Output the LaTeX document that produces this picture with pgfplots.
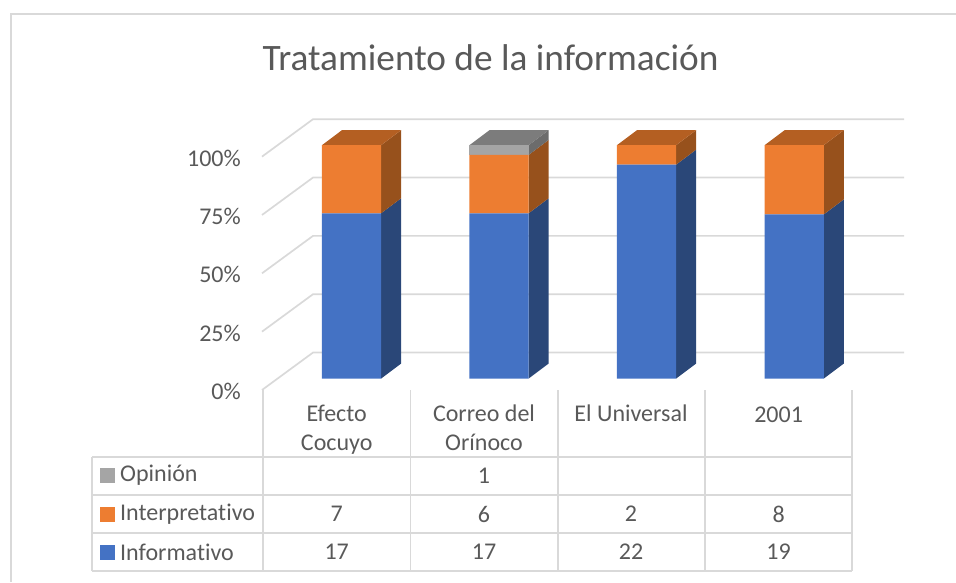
\documentclass[border=0pt]{standalone}
\usepackage{pgfplots}
\usepackage{pgfplotstable}
\usepackage{fontspec}
\setmainfont[Ligatures=NoCommon]{Carlito}
\pgfplotsset{compat=1.18}

\definecolor{azul}{HTML}{4472C4}
\definecolor{azulside}{HTML}{2A4778}
\definecolor{naranja}{HTML}{ED7D31}
\definecolor{naranjaside}{HTML}{97511C}
\definecolor{naranjatop}{HTML}{B45F22}
\definecolor{gris}{HTML}{A5A5A5}
\definecolor{grisside}{HTML}{6C6C6C}
\definecolor{gristop}{HTML}{7C7C7C}
\definecolor{linea}{HTML}{D9D9D9}
\definecolor{texto}{HTML}{595959}

% counts per newspaper; x is the bar centre in px
\pgfplotstableread{
x     inf int opi
351.5 17  7   0
499.0 17  6   1
646.5 22  2   0
794.2 19  8   0
}\datos

% depth of the fake 3D: 20 px right, 15 px up (6.43 percent units)
\newcommand{\lado}[4]{% x, low, high, colour
  \pgfmathsetmacro\xr{#1+29.6}
  \pgfmathsetmacro\xs{#1+49.6}
  \pgfmathsetmacro\ya{#2+6.43}
  \pgfmathsetmacro\yb{#3+6.43}
  \addplot[fill=#4,draw=none,forget plot] coordinates {(\xr,#2) (\xs,\ya) (\xs,\yb) (\xr,#3)} -- cycle;
}
\newcommand{\tapa}[2]{% x, colour
  \pgfmathsetmacro\xl{#1-29.6}
  \pgfmathsetmacro\xm{#1-9.6}
  \pgfmathsetmacro\xr{#1+29.6}
  \pgfmathsetmacro\xs{#1+49.6}
  \addplot[fill=#2,draw=none,forget plot] coordinates {(\xl,100) (\xm,106.43) (\xs,106.43) (\xr,100)} -- cycle;
}
\newcommand{\pared}[1]{% wall line at level #1
  \pgfmathsetmacro\ya{#1-4.9}
  \pgfmathsetmacro\yb{#1+11.14}
  \addplot[linea,line width=1.7pt,forget plot] coordinates {(262,\ya) (313,\yb) (904,\yb)};
}
\newcommand{\celda}[3]{\node[anchor=center] at (axis cs:#1,#2) {#3};}

\begin{document}
\begin{tikzpicture}
\path[use as bounding box] (0pt,0pt) rectangle (956pt,582pt);
% table, frame and title, in image pixels
\begin{axis}[
  at={(0pt,0pt)}, anchor=south west,
  scale only axis, width=956pt, height=582pt,
  xmin=0, xmax=956, ymin=0, ymax=582, y dir=reverse,
  hide axis, clip=false,
  every axis plot/.append style={forget plot},
  font=\fontsize{24}{29}\selectfont, 
  nodes={text=texto, inner sep=0pt},
]
\addplot[linea,line width=1.7pt] coordinates {(11,582) (11,14) (956,14)};
\foreach \yy in {457,495,533,571} {
  \addplot[linea,line width=1.7pt] coordinates {(92,\yy) (852,\yy)};
}
\foreach \xx in {263,410.4,557.8,705,852} {
  \addplot[linea,line width=1.7pt] coordinates {(\xx,390) (\xx,571)};
}
\addplot[linea,line width=1.7pt] coordinates {(92,457) (92,571)};
\addplot[only marks,mark=square*,mark size=7pt,color=gris,line width=0pt] coordinates {(107,475)};
\addplot[only marks,mark=square*,mark size=7pt,color=naranja,line width=0pt] coordinates {(107,514)};
\addplot[only marks,mark=square*,mark size=7pt,color=azul,line width=0pt] coordinates {(107,552)};
\node[font=\fontsize{37.3}{44}\selectfont] at (axis cs:490.5,58) {Tratamiento de la información};
\node[align=center,anchor=north] at (axis cs:336.7,405) {Efecto\\Cocuyo};
\node[align=center,anchor=north] at (axis cs:484,405) {Correo del\\Orínoco};
\node[align=center,anchor=north] at (axis cs:631,405) {El Universal};
\node[align=center,anchor=north] at (axis cs:778.6,406.5) {2001};
\node[anchor=west] at (axis cs:120,475) {Opinión};
\node[anchor=west] at (axis cs:120,514) {Interpretativo};
\node[anchor=west] at (axis cs:120,552) {Informativo};
\celda{484}{476}{1}
\celda{336.7}{514}{7}
\celda{484}{514}{6}
\celda{631}{514}{2}
\celda{778.6}{514}{8}
\celda{336.7}{552}{17}
\celda{484}{552}{17}
\celda{631}{552}{22}
\celda{778.6}{552}{19}
\end{axis}

% walls, percent ticks and the side and top faces
\begin{axis}[
  at={(262pt,192pt)}, anchor=south west,
  scale only axis, width=642pt, height=271.4pt,
  xmin=262, xmax=904, ymin=-4.9, ymax=111.4,
  axis line style={draw=none},
  major tick length=0pt,
  xtick=\empty,
  ytick={-4.9,20.1,45.1,70.1,95.1},
  yticklabels={0\%,25\%,50\%,75\%,100\%},
  yticklabel style={text=texto,font=\fontsize{24}{28}\selectfont,inner sep=0pt,xshift=-21pt,yshift=-1.5pt},
  clip=false,
]
\pared{0}\pared{25}\pared{50}\pared{75}\pared{100}
\pgfplotsinvokeforeach{0,...,3}{
  \pgfplotstablegetelem{#1}{x}\of\datos \let\xc\pgfplotsretval
  \pgfplotstablegetelem{#1}{inf}\of\datos \let\vinf\pgfplotsretval
  \pgfplotstablegetelem{#1}{int}\of\datos \let\vint\pgfplotsretval
  \pgfplotstablegetelem{#1}{opi}\of\datos \let\vopi\pgfplotsretval
  \pgfmathsetmacro\total{\vinf+\vint+\vopi}
  \pgfmathsetmacro\pa{100*\vinf/\total}
  \pgfmathsetmacro\pb{100*(\vinf+\vint)/\total}
  \lado{\xc}{0}{\pa}{azulside}
  \lado{\xc}{\pa}{\pb}{naranjaside}
  \ifnum\vopi>0
    \lado{\xc}{\pb}{100}{grisside}
    \tapa{\xc}{gristop}
  \else
    \tapa{\xc}{naranjatop}
  \fi
}
\end{axis}

% front faces, stacked shares of the counts
\begin{axis}[
  at={(262pt,192pt)}, anchor=south west,
  scale only axis, width=642pt, height=271.4pt,
  xmin=262, xmax=904, ymin=-4.9, ymax=111.4,
  hide axis,
  ybar stacked, bar width=59.2pt,
]
\addplot[fill=azul,draw=none] table[x=x,y expr={100*\thisrow{inf}/(\thisrow{inf}+\thisrow{int}+\thisrow{opi})}] {\datos};
\addplot[fill=naranja,draw=none] table[x=x,y expr={100*\thisrow{int}/(\thisrow{inf}+\thisrow{int}+\thisrow{opi})}] {\datos};
\addplot[fill=gris,draw=none] table[x=x,y expr={100*\thisrow{opi}/(\thisrow{inf}+\thisrow{int}+\thisrow{opi})}] {\datos};
\end{axis}
\end{tikzpicture}
\end{document}
